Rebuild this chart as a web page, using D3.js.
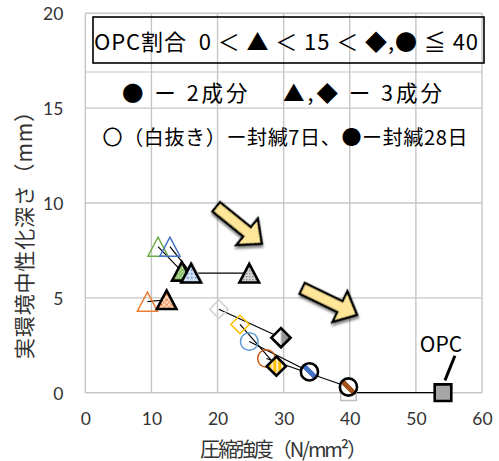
<!DOCTYPE html>
<html>
<head>
<meta charset="utf-8">
<script src="https://cdn.jsdelivr.net/npm/d3@7"></script>
<style>
  html, body { margin: 0; padding: 0; background: #fff; }
  svg { display: block; }
</style>
</head>
<body>
<svg id="chart" width="499" height="461"></svg>
<script>
// Mixes: colour + binder type; 7-day (open marker) -> 28-day (filled marker) sealed curing
const mixes = ["G3", "B3", "O3", "X3", "XD", "YD", "B2", "O2", "OPC"];
const kinds = ["tri", "tri", "tri", "tri", "dia", "dia", "cir", "cir", "sq"];
const strength7 = [11.0, 12.8, 9.4, 16.2, 20.2, 23.4, 24.8, 27.4, 39.8];
const depth7    = [7.7, 7.7, 4.8, 6.3, 4.4, 3.6, 2.7, 1.8, 0.0];
const strength28 = [14.6, 16.0, 12.3, 24.8, 29.6, 28.9, 33.9, 39.8, 54.1];
const depth28    = [6.4, 6.3, 4.9, 6.3, 2.9, 1.4, 1.1, 0.3, 0.0];

const xTicks = [0, 10, 20, 30, 40, 50, 60];
const yTicks = [0, 5, 10, 15, 20];

const xTitle = "圧縮強度（N/mm²）";
const yTitle = "実環境中性化深さ（mm）";
const legendLines = [
  "OPC割合  0 ＜ ▲ ＜ 15 ＜ ◆,● ≦ 40",
  "● ー 2成分　 ▲,◆ ー 3成分",
  "〇（白抜き）ー封緘7日、●ー封緘28日"
];

// trend arrows, in data units: [tailX, tailY, tipX, tipY]
const arrows = [[19.8, 9.8, 26.7, 7.85], [32.8, 5.5, 41.1, 4.1]];

const svg = d3.select("#chart");
const x = d3.scaleLinear().domain([0, 60]).range([85.3, 482]);
const y = d3.scaleLinear().domain([0, 20]).range([392.7, 13.3]);

const FONT = "'Noto Sans CJK JP', 'Noto Sans', sans-serif";
const NUMFONT = "Lato, 'Open Sans', sans-serif";

// ---- fills for the 28-day markers ----
const defs = svg.append("defs");
function pattern(id, size, bg, draw) {
  const p = defs.append("pattern").attr("id", id).attr("patternUnits", "userSpaceOnUse")
    .attr("width", size).attr("height", size);
  p.append("rect").attr("width", size).attr("height", size).attr("fill", bg);
  draw(p);
}
pattern("pG", 4, "#8CC168", p => {
  p.append("rect").attr("x", 0).attr("y", 0).attr("width", 1.2).attr("height", 1.2).attr("fill", "#fff");
  p.append("rect").attr("x", 2).attr("y", 2).attr("width", 1).attr("height", 1).attr("fill", "#E2F0D9");
});
pattern("pB", 4, "#C9DCF2", p => {
  p.append("rect").attr("x", 0).attr("y", 0).attr("width", 1.4).attr("height", 1.2).attr("fill", "#4472C4");
  p.append("rect").attr("x", 2).attr("y", 2).attr("width", 1).attr("height", 1).attr("fill", "#fff");
});
pattern("pX", 3, "#D0D0D0", p => {
  p.append("rect").attr("x", 0).attr("y", 0).attr("width", 1.2).attr("height", 1.2).attr("fill", "#6E6E6E");
  p.append("rect").attr("x", 1.5).attr("y", 1.5).attr("width", 1).attr("height", 1).attr("fill", "#fff");
});
pattern("pO", 5, "#FBE0CC", p => {
  p.append("path").attr("d", "M0,0L5,5M5,0L0,5").attr("stroke", "#ED7D31").attr("stroke-width", 1);
});
pattern("pY", 5, "#FFC000", p => {
  p.append("rect").attr("x", 0).attr("y", 0).attr("width", 1.6).attr("height", 5).attr("fill", "#fff");
});
function band(id, color) {
  const g = defs.append("linearGradient").attr("id", id)
    .attr("x1", 0).attr("y1", 1).attr("x2", 1).attr("y2", 0);
  [[0, "#fff"], [0.4, "#fff"], [0.4, color], [0.6, color], [0.6, "#fff"], [1, "#fff"]]
    .forEach(([o, c]) => g.append("stop").attr("offset", o).attr("stop-color", c));
}
band("gB2", "#4472C4");
band("gO2", "#A5521B");
const half = defs.append("linearGradient").attr("id", "gXD")
  .attr("x1", 0).attr("y1", 0).attr("x2", 1).attr("y2", 0);
[[0, "#fff"], [0.45, "#fff"], [0.55, "#9A9A9A"], [1, "#8C8C8C"]]
  .forEach(([o, c]) => half.append("stop").attr("offset", o).attr("stop-color", c));

const shadow = defs.append("filter").attr("id", "shadow").attr("x", "-30%").attr("y", "-30%")
  .attr("width", "160%").attr("height", "160%");
shadow.append("feGaussianBlur").attr("in", "SourceAlpha").attr("stdDeviation", 1.2).attr("result", "b");
shadow.append("feOffset").attr("in", "b").attr("dx", 2).attr("dy", 2).attr("result", "o");
shadow.append("feComponentTransfer").attr("in", "o").attr("result", "s")
  .append("feFuncA").attr("type", "linear").attr("slope", 0.45);
const mrg = shadow.append("feMerge");
mrg.append("feMergeNode").attr("in", "s");
mrg.append("feMergeNode").attr("in", "SourceGraphic");

// per-mix styling: open-marker colour and filled-marker fill
const style = {
  G3: { open: "#70AD47", fill: "url(#pG)" },
  B3: { open: "#4472C4", fill: "url(#pB)" },
  O3: { open: "#ED7D31", fill: "url(#pO)" },
  X3: { open: "#C8C8C8", fill: "url(#pX)" },
  XD: { open: "#CFCFCF", fill: "url(#gXD)" },
  YD: { open: "#FFC000", fill: "url(#pY)" },
  B2: { open: "#5B9BD5", fill: "url(#gB2)" },
  O2: { open: "#C55A11", fill: "url(#gO2)" },
  OPC: { open: "#BDBDBD", fill: "#A6A6A6" }
};

function shapePath(kind, big) {
  const s = big ? 1 : 1.03;
  if (kind === "tri") { const w = 9.8 * s, h = 9.3 * s; return `M0,${-h}L${w},${h}L${-w},${h}Z`; }
  if (kind === "dia") { const d = big ? 9.6 : 9.2; return `M0,${-d}L${d},0L0,${d}L${-d},0Z`; }
  if (kind === "sq") { const a = big ? 8.3 : 7.8; return `M${-a},${-a}H${a}V${a}H${-a}Z`; }
  return d3.symbol(d3.symbolCircle, Math.PI * (big ? 8.6 : 8.8) ** 2)();
}

// ---- grid ----
const grid = svg.append("g").attr("stroke", "#C6C6C6").attr("stroke-width", 1.4);
xTicks.forEach(t => grid.append("line").attr("x1", x(t)).attr("x2", x(t)).attr("y1", y(0)).attr("y2", y(20)));
yTicks.forEach(t => grid.append("line").attr("x1", x(0)).attr("x2", x(60)).attr("y1", y(t)).attr("y2", y(t)));
// rule under the ratio box
svg.append("line").attr("x1", x(0)).attr("x2", x(60)).attr("y1", 72).attr("y2", 72)
  .attr("stroke", "#C6C6C6").attr("stroke-width", 1.2);

// ---- axes (labels only) ----
const xAxis = svg.append("g").attr("transform", `translate(0,${y(0) + 17})`)
  .call(d3.axisBottom(x).tickValues(xTicks).tickSize(0).tickPadding(0));
const yAxis = svg.append("g").attr("transform", `translate(${x(0) - 22},0)`)
  .call(d3.axisLeft(y).tickValues(yTicks).tickSize(0).tickPadding(0));
[xAxis, yAxis].forEach(a => {
  a.select(".domain").remove();
  a.selectAll("text").attr("font-family", NUMFONT).attr("font-size", 17.5).attr("fill", "#333");
});
xAxis.selectAll("text").attr("dy", "0.9em");
yAxis.selectAll("text").attr("dy", "0.36em");

svg.append("text").attr("x", 283.5).attr("y", 448).attr("text-anchor", "middle")
  .attr("dominant-baseline", "central").attr("font-family", FONT).attr("font-size", 20)
  .attr("fill", "#333").attr("textLength", 167).attr("lengthAdjust", "spacing").text(xTitle);
svg.append("text").attr("transform", "translate(23,230) rotate(-90)").attr("text-anchor", "middle")
  .attr("dominant-baseline", "central").attr("font-family", FONT).attr("font-size", 21)
  .attr("fill", "#333").attr("textLength", 258).attr("lengthAdjust", "spacing").text(yTitle);

// ---- legend text block ----
svg.append("rect").attr("x", 93).attr("y", 17).attr("width", 391).attr("height", 46)
  .attr("fill", "none").attr("stroke", "#000").attr("stroke-width", 1.6);
const legendSpec = [
  { cx: 286, cy: 40, w: 384, fs: 22 },
  { cx: 282, cy: 91, w: 320, fs: 21.5 },
  { cx: 285, cy: 136.5, w: 365, fs: 20 }
];
legendLines.forEach((t, i) => {
  const s = legendSpec[i];
  svg.append("text").attr("x", s.cx).attr("y", s.cy).attr("text-anchor", "middle")
    .attr("dominant-baseline", "central").attr("font-family", FONT).attr("font-size", s.fs)
    .attr("font-weight", 400).attr("fill", "#000")
    .attr("textLength", s.w).attr("lengthAdjust", "spacing")
    .attr("xml:space", "preserve").text(t);
});

// ---- trend arrows ----
arrows.forEach(([tx, ty, hx, hy]) => {
  const x0 = x(tx), y0 = y(ty), x1 = x(hx), y1 = y(hy);
  const L = Math.hypot(x1 - x0, y1 - y0);
  const ang = Math.atan2(y1 - y0, x1 - x0) * 180 / Math.PI;
  const sw = 6, hw = 17, hl = 19;
  const pts = [[0, -sw], [L - hl, -sw], [L - hl, -hw], [L, 0], [L - hl, hw], [L - hl, sw], [0, sw]];
  svg.append("path").attr("transform", `translate(${x0},${y0}) rotate(${ang})`)
    .attr("d", d3.line()(pts) + "Z").attr("fill", "#FFE699").attr("stroke", "#000")
    .attr("stroke-width", 2.4).attr("stroke-linejoin", "miter").attr("filter", "url(#shadow)");
});

// ---- 7d -> 28d connecting lines ----
const lineG = svg.append("g");
mixes.forEach((m, i) => {
  lineG.append("path")
    .attr("d", d3.line()([[x(strength7[i]), y(depth7[i])], [x(strength28[i]), y(depth28[i])]]))
    .attr("stroke", "#000").attr("stroke-width", 1.2).attr("fill", "none");
});

// ---- markers: 7-day open, then 28-day filled ----
const markG = svg.append("g");
const order = [3, 0, 1, 2, 4, 5, 6, 7, 8];
order.forEach(i => {
  const m = mixes[i], k = kinds[i], st = style[m];
  markG.append("path").attr("d", shapePath(k, false))
    .attr("transform", `translate(${x(strength7[i])},${y(depth7[i])})`)
    .attr("fill", "none").attr("stroke", st.open).attr("stroke-width", 1.5);
});
order.forEach(i => {
  const m = mixes[i], k = kinds[i], st = style[m];
  markG.append("path").attr("d", shapePath(k, true))
    .attr("transform", `translate(${x(strength28[i])},${y(depth28[i])})`)
    .attr("fill", st.fill).attr("stroke", "#000").attr("stroke-width", 2.6)
    .attr("stroke-linejoin", "miter");
});

// ---- OPC callout ----
svg.append("line").attr("x1", x(55.9)).attr("y1", y(1.95)).attr("x2", x(54.4)).attr("y2", y(0.65))
  .attr("stroke", "#000").attr("stroke-width", 3);
svg.append("text").attr("x", x(53.8)).attr("y", y(2.62)).attr("text-anchor", "middle")
  .attr("dominant-baseline", "central").attr("font-family", FONT).attr("font-size", 21)
  .attr("fill", "#000").text("OPC");
</script>
</body>
</html>
